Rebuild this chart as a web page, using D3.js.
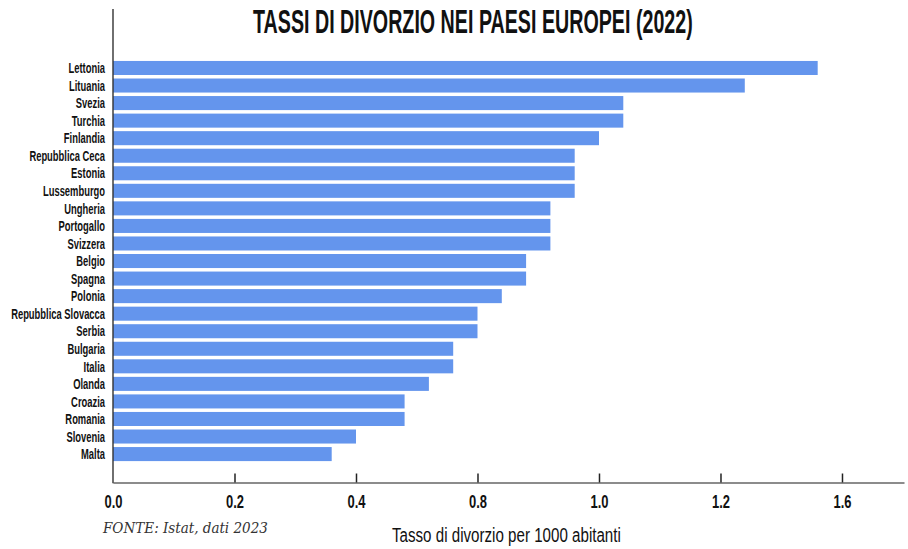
<!DOCTYPE html>
<html>
<head>
<meta charset="utf-8">
<script src="https://cdn.jsdelivr.net/npm/d3@7/dist/d3.min.js"></script>
<style>
  html, body { margin: 0; padding: 0; background: #fff; }
  svg { display: block; }
</style>
</head>
<body>
<script>
const countries = ["Lettonia","Lituania","Svezia","Turchia","Finlandia","Repubblica Ceca","Estonia","Lussemburgo","Ungheria","Portogallo","Svizzera","Belgio","Spagna","Polonia","Repubblica Slovacca","Serbia","Bulgaria","Italia","Olanda","Croazia","Romania","Slovenia","Malta"];
const rates = [1.45,1.3,1.05,1.05,1.0,0.95,0.95,0.95,0.9,0.9,0.9,0.85,0.85,0.8,0.75,0.75,0.7,0.7,0.65,0.6,0.6,0.5,0.45];
const tickValues = [0,0.25,0.5,0.75,1.0,1.25,1.5];
const tickLabels = ["0.0","0.2","0.4","0.8","1.0","1.2","1.6"];
const title = "TASSI DI DIVORZIO NEI PAESI EUROPEI (2022)";
const xTitle = "Tasso di divorzio per 1000 abitanti";
const source = "FONTE: Istat, dati 2023";

const W = 908, H = 549;
const left = 113, right = 904, axisY = 482.5;
const FONT = "'Liberation Sans', Arial, sans-serif";
const svg = d3.select("body").append("svg").attr("width", W).attr("height", H);

// horizontally squeeze a text element to a target width, anchored at its x
function squeeze(sel, target, ax, ay) {
  const w = sel.node().getComputedTextLength();
  const s = target / w;
  sel.attr("x", 0).attr("y", 0).attr("transform", `translate(${ax},${ay}) scale(${s},1)`);
}

const x = d3.scaleLinear().domain([0, 1.6276]).range([left, right]);
const step = 17.55;
const y = d3.scaleBand().domain(countries).range([59.2, 59.2 + step * 23]).paddingInner(0.2).paddingOuter(0.1);

// bars
svg.append("g").selectAll("rect").data(countries).join("rect")
  .attr("x", x(0))
  .attr("y", d => y(d))
  .attr("width", (d, i) => x(rates[i]) - x(0))
  .attr("height", y.bandwidth())
  .attr("fill", "#6495ED");

// x axis
const xAxis = d3.axisBottom(x).tickValues(tickValues).tickSize(0).tickFormat((d, i) => tickLabels[i]);
const gx = svg.append("g").attr("transform", `translate(0,${axisY})`).call(xAxis);
gx.select(".domain").attr("stroke", "#666").attr("stroke-width", 1.6);
gx.selectAll(".tick line").remove();
gx.selectAll(".tick").filter(d => d > 0).append("line")
  .attr("y1", 0).attr("y2", -9).attr("stroke", "#222").attr("stroke-width", 1.5);
gx.selectAll(".tick text")
  .attr("y", 0)
  .attr("dy", 0)
  .attr("transform", "translate(0,25) scale(0.72,1)")
  .attr("fill", "#111")
  .style("font-family", FONT)
  .style("font-weight", "bold")
  .style("font-size", "18px");

// y axis
const yAxis = d3.axisLeft(y).tickSize(0).tickPadding(8);
const gy = svg.append("g").attr("transform", `translate(${left},0)`).call(yAxis);
gy.select(".domain").remove();
const labels = gy.selectAll(".tick text")
  .attr("x", 0).attr("dy", 0)
  .attr("dominant-baseline", "central")
  .attr("fill", "#111")
  .style("font-family", FONT)
  .style("font-weight", "bold")
  .style("font-size", "14px");
let maxW = 0;
labels.each(function() { maxW = Math.max(maxW, this.getComputedTextLength()); });
const ls = 94 / maxW;
labels.attr("transform", `translate(-8,0.5) scale(${ls},1)`);

svg.append("line").attr("x1", left).attr("x2", left).attr("y1", 9).attr("y2", axisY + 0.8)
  .attr("stroke", "#333").attr("stroke-width", 1.4);

// title
const t = svg.append("text")
  .attr("fill", "#111")
  .style("font-family", FONT)
  .style("font-weight", "bold")
  .style("font-size", "34px")
  .text(title);
squeeze(t, 440, 253, 33);

// x title
const xt = svg.append("text")
  .attr("fill", "#111")
  .style("font-family", FONT)
  .style("font-size", "21px")
  .text(xTitle);
squeeze(xt, 229, 392, 542);

// source
const src = svg.append("text")
  .attr("fill", "#333")
  .style("font-family", "'DejaVu Serif', 'Liberation Serif', serif")
  .style("font-style", "italic")
  .style("font-size", "15px")
  .text(source);
squeeze(src, 165, 103, 533);
</script>
</body>
</html>
